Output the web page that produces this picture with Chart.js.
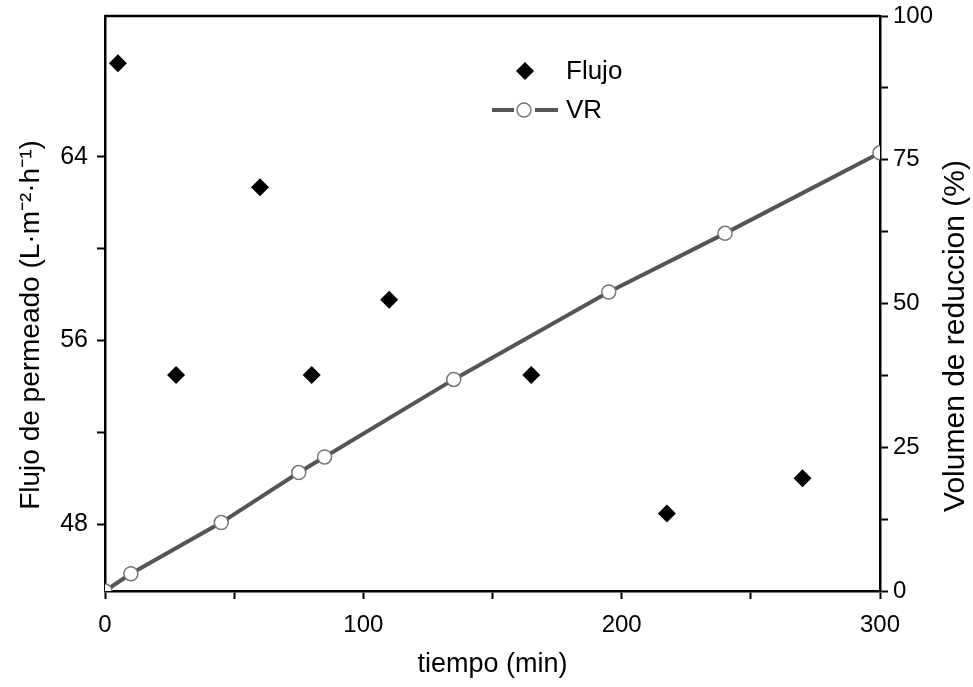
<!DOCTYPE html>
<html>
<head>
<meta charset="utf-8">
<script src="https://cdn.jsdelivr.net/npm/chart.js@4.4.1/dist/chart.umd.min.js"></script>
<style>
  html, body { margin: 0; padding: 0; background: #fff; }
  #wrap { width: 973px; height: 687px; }
</style>
</head>
<body>
<div id="wrap"><canvas id="chart" width="973" height="687"></canvas></div>
<script>
// values
const tiempoFlujo = [5, 27.5, 60, 80, 110, 165, 217.5, 270];
const flujo = [68.07, 54.5, 62.67, 54.5, 57.77, 54.5, 48.47, 50.0];
const tiempoVR = [0, 10, 45, 75, 85, 135, 195, 240, 300];
const vr = [0, 3.0, 11.9, 20.6, 23.3, 36.8, 52.0, 62.2, 76.2];

const xTicks = [0, 100, 200, 300];
const leftTicks = [48, 56, 64];
const rightTicks = [0, 25, 50, 75, 100];

const FONT = "'Liberation Sans', Arial, sans-serif";
const leftTitle = "Flujo de permeado (L·m⁻²·h⁻¹)";
const rightTitle = "Volumen de reduccion (%)";

const flujoPts = tiempoFlujo.map((t, i) => ({ x: t, y: flujo[i] }));
const vrPts = tiempoVR.map((t, i) => ({ x: t, y: vr[i] }));

// frame top, vertical titles (both read bottom-up) and the inner legend
const extras = {
  id: "extras",
  afterDraw(chart) {
    const ctx = chart.ctx;
    const a = chart.chartArea;
    ctx.save();
    ctx.strokeStyle = "#000";
    ctx.lineWidth = 2.5;
    ctx.beginPath();
    ctx.moveTo(a.left, a.top);
    ctx.lineTo(a.right, a.top);
    ctx.stroke();

    ctx.fillStyle = "#000";
    ctx.textAlign = "center";
    ctx.textBaseline = "middle";
    ctx.save();
    ctx.translate(31, 325);
    ctx.rotate(-Math.PI / 2);
    ctx.font = "28px " + FONT;
    ctx.fillText(leftTitle, 0, 0);
    ctx.restore();
    ctx.save();
    ctx.translate(956, 336);
    ctx.rotate(-Math.PI / 2);
    ctx.font = "30px " + FONT;
    ctx.fillText(rightTitle, 0, 0);
    ctx.restore();

    const ds = chart.data.datasets;
    ctx.textAlign = "left";
    ctx.font = "26px " + FONT;

    // Flujo
    let cx = 525, cy = 71;
    ctx.fillStyle = ds[0].pointBackgroundColor;
    ctx.beginPath();
    ctx.moveTo(cx - 9, cy);
    ctx.lineTo(cx, cy - 9);
    ctx.lineTo(cx + 9, cy);
    ctx.lineTo(cx, cy + 9);
    ctx.closePath();
    ctx.fill();
    ctx.fillStyle = "#000";
    ctx.fillText(ds[0].label, 566, cy + 1);

    // VR
    cy = 110;
    ctx.strokeStyle = ds[1].borderColor;
    ctx.lineWidth = ds[1].borderWidth;
    ctx.beginPath();
    ctx.moveTo(492, cy); ctx.lineTo(514, cy);
    ctx.moveTo(535, cy); ctx.lineTo(558, cy);
    ctx.stroke();
    ctx.beginPath();
    ctx.arc(524, cy, 7, 0, Math.PI * 2);
    ctx.fillStyle = "#fff";
    ctx.fill();
    ctx.lineWidth = 1.5;
    ctx.strokeStyle = ds[1].pointBorderColor;
    ctx.stroke();
    ctx.fillStyle = "#000";
    ctx.fillText(ds[1].label, 566, cy + 1);
    ctx.restore();
  }
};

const axisCommon = {
  border: { display: true, color: "#000", width: 2.5 },
  grid: { display: true, drawOnChartArea: false, drawTicks: true, tickLength: 8, tickWidth: 2, tickColor: "#000" },
};

new Chart(document.getElementById("chart"), {
  type: "scatter",
  data: {
    datasets: [
      {
        label: "Flujo",
        data: flujoPts,
        yAxisID: "y",
        showLine: false,
        pointStyle: "rectRot",
        pointRadius: 9,
        pointBackgroundColor: "#000",
        pointBorderColor: "#000",
        pointBorderWidth: 0
      },
      {
        label: "VR",
        data: vrPts,
        yAxisID: "y1",
        showLine: true,
        clip: 0,
        borderColor: "#555555",
        borderWidth: 4,
        pointStyle: "circle",
        pointRadius: 7,
        pointBackgroundColor: "#fff",
        pointBorderColor: "#777777",
        pointBorderWidth: 1.5
      }
    ]
  },
  plugins: [extras],
  options: {
    responsive: false,
    animation: false,
    layout: { padding: { top: 16, left: 0, right: 0, bottom: 0 } },
    plugins: {
      legend: { display: false },
      tooltip: { enabled: false }
    },
    scales: {
      x: {
        ...axisCommon,
        type: "linear",
        position: "bottom",
        min: 0,
        max: 300,
        afterBuildTicks: s => { s.ticks = [0, 50, 100, 150, 200, 250, 300].map(v => ({ value: v })); },
        afterFit: s => { s.height = 96; s.paddingLeft = 0; s.paddingRight = 0; },
        ticks: {
          padding: 12,
          color: "#000",
          font: { family: FONT, size: 24 },
          callback: v => xTicks.includes(v) ? String(v) : ""
        },
        title: { display: true, text: "tiempo (min)", color: "#000", font: { family: FONT, size: 27 }, padding: { top: 0, bottom: 6 } }
      },
      y: {
        ...axisCommon,
        type: "linear",
        position: "left",
        min: 45.09,
        max: 70.13,
        afterBuildTicks: s => { s.ticks = [48, 52, 56, 60, 64].map(v => ({ value: v })); },
        afterFit: s => { s.width = 105; s.paddingTop = 0; s.paddingBottom = 0; },
        ticks: {
          padding: 9,
          color: "#000",
          font: { family: FONT, size: 25 },
          callback: v => leftTicks.includes(v) ? String(v) : ""
        },
        title: { display: false }
      },
      y1: {
        ...axisCommon,
        type: "linear",
        position: "right",
        min: 0,
        max: 100,
        afterBuildTicks: s => { s.ticks = [0, 12.5, 25, 37.5, 50, 62.5, 75, 87.5, 100].map(v => ({ value: v })); },
        afterFit: s => { s.width = 93; s.paddingTop = 0; s.paddingBottom = 0; },
        ticks: {
          padding: 5,
          color: "#000",
          font: { family: FONT, size: 24 },
          callback: v => rightTicks.includes(v) ? String(v) : ""
        },
        title: { display: false }
      }
    }
  }
});
</script>
</body>
</html>
